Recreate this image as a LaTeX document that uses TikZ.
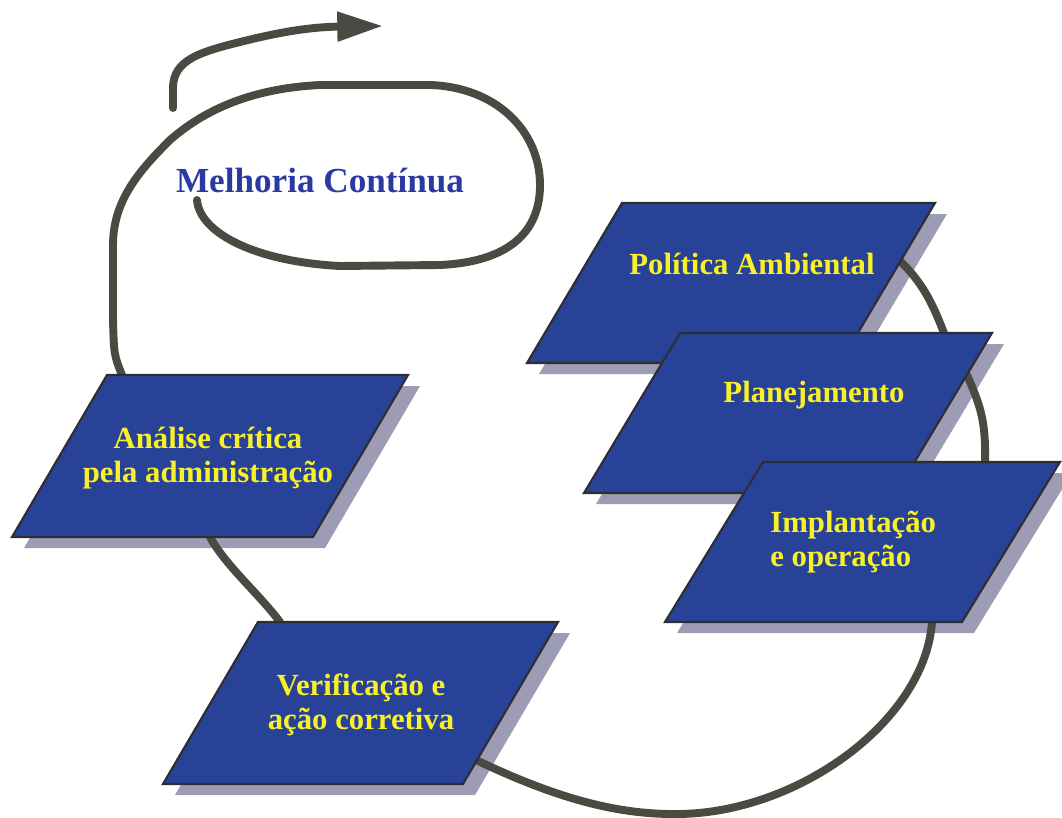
\documentclass[tikz,border=0pt]{standalone}
\usepackage{fontspec}
\setmainfont{Liberation Serif}
\usetikzlibrary{arrows.meta}
\definecolor{boxblue}{RGB}{40,66,152}
\definecolor{boxedge}{RGB}{45,45,50}
\definecolor{shadowgray}{RGB}{158,156,180}
\definecolor{linegray}{RGB}{74,74,66}
\definecolor{labelyellow}{RGB}{248,240,40}
\definecolor{melblue}{RGB}{42,58,160}
\newcommand\pgshadow[5]{\fill[pshadow] ({#1+12},{#2+11}) -- ++(#3,0) -- ++({-#5},#4) -- ++({-#3},0) -- cycle;}
\newcommand\pgbox[5]{\draw[pshape] (#1,#2) -- ++(#3,0) -- ++({-#5},#4) -- ++({-#3},0) -- cycle;}
\begin{document}
\begin{tikzpicture}[x=0.02cm,y=-0.02cm,
  pshape/.style={fill=boxblue,draw=boxedge,line width=1.2pt,line join=miter},
  pshadow/.style={fill=shadowgray},
  lbl/.style={text=labelyellow,font=\bfseries\fontsize{17.5}{19.3}\selectfont,inner sep=0pt},
  flow/.style={draw=linegray,line width=4.5pt,line cap=round,line join=round},
  meltext/.style={text=melblue,font=\bfseries\fontsize{20}{24}\selectfont,inner sep=0pt}]
\useasboundingbox (0,0) rectangle (1062,818);
% shadows
\pgshadow{622}{203}{313}{160}{95}
\pgshadow{680}{333}{312}{160}{96}
\pgshadow{763}{462}{297}{160}{98}
\pgshadow{107}{375}{301}{162}{95}
\pgshadow{258}{622}{300}{162}{95}
% connector end points
\coordinate (anatop) at (122,375);
\coordinate (loopend) at (197,200);
\coordinate (arrowstart) at (173,108);
\coordinate (arrowtip) at (383,26);
\coordinate (anabot) at (210,537);
\coordinate (vertop) at (280,622);
\coordinate (verright) at (476,760);
\coordinate (impbot) at (932,622);
\coordinate (polright) at (901,262);
\coordinate (platop) at (944,333);
\coordinate (plaright) at (967,375);
\coordinate (imptop) at (985,462);
% connectors
\draw[flow] (anatop) .. controls (114,355) .. (113,320) -- (113,245)
  .. controls (113,200) and (140,170) .. (170,140)
  .. controls (210,105) and (260,88) .. (320,85) -- (430,85)
  .. controls (495,87) and (540,130) .. (540,185)
  .. controls (540,235) and (505,262) .. (440,265) -- (340,266)
  .. controls (260,262) and (200,235) .. (loopend);
\draw[flow,-{Triangle[length=26pt,width=16pt]}] (arrowstart) -- (173,88)
  .. controls (173,60) and (200,52) .. (240,42)
  .. controls (280,32) and (310,27) .. (arrowtip);
\draw[flow] (anabot) .. controls (225,565) and (260,595) .. (vertop);
\draw[flow] (verright) .. controls (560,800) and (620,815) .. (680,814)
  .. controls (800,812) and (925,720) .. (impbot);
\draw[flow] (polright) .. controls (925,285) and (935,310) .. (platop);
\draw[flow] (plaright) .. controls (980,405) and (986,420) .. (imptop);
% boxes
\pgbox{622}{203}{313}{160}{95}
\pgbox{680}{333}{312}{160}{96}
\pgbox{763}{462}{297}{160}{98}
\pgbox{107}{375}{301}{162}{95}
\pgbox{258}{622}{300}{162}{95}
% labels
\node[meltext] (mel) at (320,181) {Melhoria Contínua};
\node[lbl] (pol) at (752,264) {Política Ambiental};
\node[lbl] (pla) at (814,395) {Planejamento};
\node[lbl,align=left,anchor=west] (imp) at (770,542) {Implantação\\e operação};
\node[lbl,align=center] (ana) at (208,458) {Análise crítica\\pela administração};
\node[lbl,align=center] (ver) at (361,705) {Verificação e\\ação corretiva};
\end{tikzpicture}
\end{document}
